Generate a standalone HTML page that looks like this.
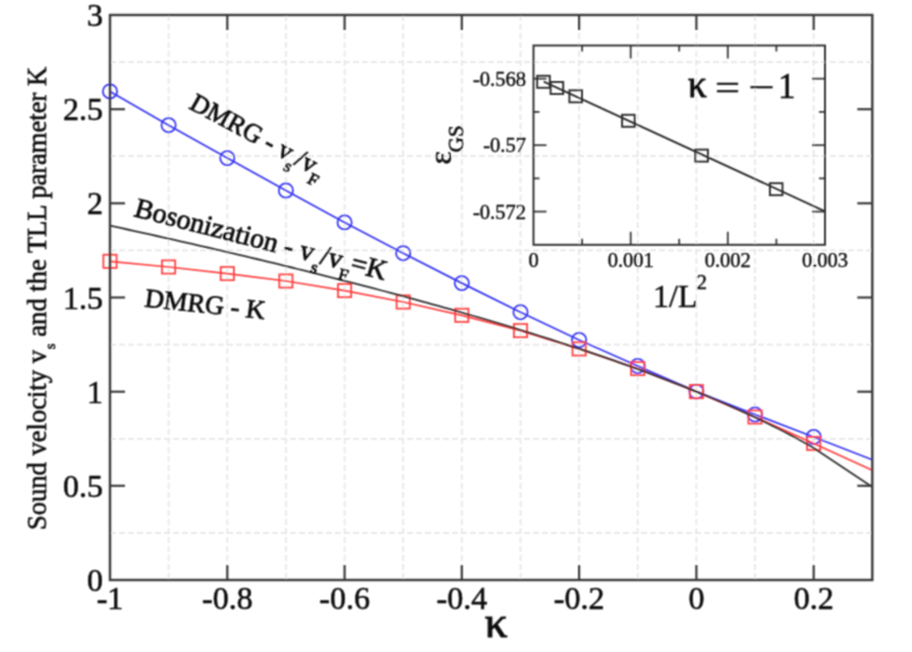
<!DOCTYPE html>
<html><head><meta charset="utf-8"><style>
html,body{margin:0;padding:0;background:#fff;width:912px;height:652px;overflow:hidden}
svg{display:block}
#w{width:912px;height:652px}
text{font-family:"Liberation Serif",serif}
</style></head><body><div id="w"><svg width="912" height="652" viewBox="0 0 912 652"><defs><filter id="b" x="-5%" y="-5%" width="110%" height="110%"><feConvolveMatrix order="3" kernelMatrix="1 2 1 2 4 2 1 2 1" divisor="16" edgeMode="none" preserveAlpha="false"/></filter></defs><rect width="912" height="652" fill="#fff"/><g filter="url(#b)"><g stroke="#e6e6e6" stroke-width="1.7" stroke-dasharray="6,3"><line x1="168.6" y1="15.0" x2="168.6" y2="580.0"/><line x1="227.3" y1="15.0" x2="227.3" y2="580.0"/><line x1="285.9" y1="15.0" x2="285.9" y2="580.0"/><line x1="344.6" y1="15.0" x2="344.6" y2="580.0"/><line x1="403.2" y1="15.0" x2="403.2" y2="580.0"/><line x1="461.8" y1="15.0" x2="461.8" y2="580.0"/><line x1="520.5" y1="15.0" x2="520.5" y2="580.0"/><line x1="579.1" y1="15.0" x2="579.1" y2="580.0"/><line x1="637.7" y1="15.0" x2="637.7" y2="580.0"/><line x1="696.4" y1="15.0" x2="696.4" y2="580.0"/><line x1="755.0" y1="15.0" x2="755.0" y2="580.0"/><line x1="813.7" y1="15.0" x2="813.7" y2="580.0"/><line x1="110.0" y1="532.9" x2="872.3" y2="532.9"/><line x1="110.0" y1="438.8" x2="872.3" y2="438.8"/><line x1="110.0" y1="344.6" x2="872.3" y2="344.6"/><line x1="110.0" y1="250.4" x2="872.3" y2="250.4"/><line x1="110.0" y1="156.2" x2="872.3" y2="156.2"/><line x1="110.0" y1="62.1" x2="872.3" y2="62.1"/></g><polyline fill="none" stroke="#3636f2" stroke-width="1.75" points="110.0,91.4 168.6,125.2 227.3,158.1 285.9,190.5 344.6,222.4 403.2,253.2 461.8,283.1 520.5,312.2 579.1,340.0 637.7,366.0 696.4,391.6 755.0,414.5 813.7,437.0 872.3,459.7"/><g fill="none" stroke="#3636f2" stroke-width="1.75"><circle cx="110.0" cy="91.4" r="7.1"/><circle cx="168.6" cy="125.2" r="7.1"/><circle cx="227.3" cy="158.1" r="7.1"/><circle cx="285.9" cy="190.5" r="7.1"/><circle cx="344.6" cy="222.4" r="7.1"/><circle cx="403.2" cy="253.2" r="7.1"/><circle cx="461.8" cy="283.1" r="7.1"/><circle cx="520.5" cy="312.2" r="7.1"/><circle cx="579.1" cy="340.0" r="7.1"/><circle cx="637.7" cy="366.0" r="7.1"/><circle cx="696.4" cy="391.6" r="7.1"/><circle cx="755.0" cy="414.5" r="7.1"/><circle cx="813.7" cy="437.0" r="7.1"/></g><polyline fill="none" stroke="#ff3c3c" stroke-width="1.75" points="110.0,261.3 168.6,267.0 227.3,273.6 285.9,281.0 344.6,290.6 403.2,302.0 461.8,315.3 520.5,330.6 579.1,348.9 637.7,368.6 696.4,391.6 755.0,417.0 813.7,443.5 872.3,470.3"/><g fill="none" stroke="#ff3c3c" stroke-width="1.75"><rect x="103.4" y="254.7" width="13.2" height="13.2"/><rect x="162.0" y="260.4" width="13.2" height="13.2"/><rect x="220.7" y="267.0" width="13.2" height="13.2"/><rect x="279.3" y="274.4" width="13.2" height="13.2"/><rect x="338.0" y="284.0" width="13.2" height="13.2"/><rect x="396.6" y="295.4" width="13.2" height="13.2"/><rect x="455.2" y="308.7" width="13.2" height="13.2"/><rect x="513.9" y="324.0" width="13.2" height="13.2"/><rect x="572.5" y="342.3" width="13.2" height="13.2"/><rect x="631.1" y="362.0" width="13.2" height="13.2"/><rect x="689.8" y="385.0" width="13.2" height="13.2"/><rect x="748.4" y="410.4" width="13.2" height="13.2"/><rect x="807.1" y="436.9" width="13.2" height="13.2"/></g><polyline fill="none" stroke="#2e2e2e" stroke-width="1.8" points="110.0,225.7 115.9,226.9 121.7,228.2 127.6,229.5 133.5,230.8 139.3,232.1 145.2,233.4 151.0,234.7 156.9,236.0 162.8,237.3 168.6,238.6 174.5,239.9 180.4,241.3 186.2,242.6 192.1,243.9 198.0,245.3 203.8,246.6 209.7,248.0 215.5,249.3 221.4,250.7 227.3,252.1 233.1,253.4 239.0,254.8 244.9,256.2 250.7,257.6 256.6,259.0 262.5,260.4 268.3,261.8 274.2,263.2 280.1,264.7 285.9,266.1 291.8,267.5 297.6,269.0 303.5,270.4 309.4,271.9 315.2,273.4 321.1,274.8 327.0,276.3 332.8,277.8 338.7,279.3 344.6,280.8 350.4,282.3 356.3,283.8 362.1,285.3 368.0,286.9 373.9,288.4 379.7,290.0 385.6,291.5 391.5,293.1 397.3,294.7 403.2,296.2 409.1,297.8 414.9,299.4 420.8,301.1 426.6,302.7 432.5,304.3 438.4,305.9 444.2,307.6 450.1,309.2 456.0,310.9 461.8,312.6 467.7,314.3 473.6,316.0 479.4,317.7 485.3,319.4 491.1,321.2 497.0,322.9 502.9,324.7 508.7,326.4 514.6,328.2 520.5,330.0 526.3,331.8 532.2,333.6 538.1,335.5 543.9,337.3 549.8,339.2 555.7,341.1 561.5,343.0 567.4,344.9 573.2,346.8 579.1,348.7 585.0,350.7 590.8,352.7 596.7,354.6 602.6,356.7 608.4,358.7 614.3,360.7 620.2,362.8 626.0,364.9 631.9,367.0 637.7,369.1 643.6,371.2 649.5,373.4 655.3,375.6 661.2,377.8 667.1,380.1 672.9,382.3 678.8,384.6 684.7,386.9 690.5,389.3 696.4,391.7 702.2,394.1 708.1,396.5 714.0,399.0 719.8,401.5 725.7,404.0 731.6,406.6 737.4,409.2 743.3,411.9 749.2,414.6 755.0,417.3 760.9,420.1 766.8,423.0 772.6,425.9 778.5,428.8 784.3,431.8 790.2,434.9 796.1,438.0 801.9,441.2 807.8,444.5 813.7,447.9 872.3,487.0"/><g stroke="#3a3a3a" stroke-width="2.2"><line x1="227.3" y1="580.0" x2="227.3" y2="565.0"/><line x1="227.3" y1="15.0" x2="227.3" y2="30.0"/><line x1="344.6" y1="580.0" x2="344.6" y2="565.0"/><line x1="344.6" y1="15.0" x2="344.6" y2="30.0"/><line x1="461.8" y1="580.0" x2="461.8" y2="565.0"/><line x1="461.8" y1="15.0" x2="461.8" y2="30.0"/><line x1="579.1" y1="580.0" x2="579.1" y2="565.0"/><line x1="579.1" y1="15.0" x2="579.1" y2="30.0"/><line x1="696.4" y1="580.0" x2="696.4" y2="565.0"/><line x1="696.4" y1="15.0" x2="696.4" y2="30.0"/><line x1="813.7" y1="580.0" x2="813.7" y2="565.0"/><line x1="813.7" y1="15.0" x2="813.7" y2="30.0"/><line x1="110.0" y1="485.8" x2="125.0" y2="485.8"/><line x1="872.3" y1="485.8" x2="857.3" y2="485.8"/><line x1="110.0" y1="391.7" x2="125.0" y2="391.7"/><line x1="872.3" y1="391.7" x2="857.3" y2="391.7"/><line x1="110.0" y1="297.5" x2="125.0" y2="297.5"/><line x1="872.3" y1="297.5" x2="857.3" y2="297.5"/><line x1="110.0" y1="203.3" x2="125.0" y2="203.3"/><line x1="872.3" y1="203.3" x2="857.3" y2="203.3"/><line x1="110.0" y1="109.2" x2="125.0" y2="109.2"/><line x1="872.3" y1="109.2" x2="857.3" y2="109.2"/></g><rect x="110.0" y="15.0" width="762.3" height="565.0" fill="none" stroke="#3a3a3a" stroke-width="2.4"/><g font-family="Liberation Serif" font-size="32" fill="#111" stroke="#111" stroke-width="0.6"><text x="103" y="26.0" text-anchor="end">3</text><text x="103" y="120.2" text-anchor="end">2.5</text><text x="103" y="214.3" text-anchor="end">2</text><text x="103" y="308.5" text-anchor="end">1.5</text><text x="103" y="402.7" text-anchor="end">1</text><text x="103" y="496.8" text-anchor="end">0.5</text><text x="103" y="591.0" text-anchor="end">0</text><text x="110.0" y="608.5" text-anchor="middle">-1</text><text x="227.3" y="608.5" text-anchor="middle">-0.8</text><text x="344.6" y="608.5" text-anchor="middle">-0.6</text><text x="461.8" y="608.5" text-anchor="middle">-0.4</text><text x="579.1" y="608.5" text-anchor="middle">-0.2</text><text x="696.4" y="608.5" text-anchor="middle">0</text><text x="813.7" y="608.5" text-anchor="middle">0.2</text></g><text x="496" y="637" font-family="Liberation Serif" font-size="45" fill="#111" stroke="#111" stroke-width="1.1" text-anchor="middle">κ</text><text transform="translate(46,530) rotate(-90) scale(0.966,1)" font-family="Liberation Serif" font-size="27.5" fill="#111" stroke="#111" stroke-width="0.6">Sound velocity v<tspan font-size="15.5" dy="9" dx="1">s</tspan><tspan dy="-9"> and the TLL parameter K</tspan></text><text transform="translate(188,108) rotate(28) skewX(-1.5)" font-family="Liberation Serif" fill="#111" stroke="#111" stroke-width="0.8" font-size="26">DMRG - v<tspan font-size="17" dy="10">s</tspan><tspan dy="-10">/v</tspan><tspan font-size="17" dy="10">F</tspan></text><text transform="translate(133,216) rotate(14.3) skewX(-1.5)" font-family="Liberation Serif" fill="#111" stroke="#111" stroke-width="0.8" font-size="27.9">Bosonization - v<tspan font-size="17" dy="10.5" dx="1">s</tspan><tspan dy="-10.5">/v</tspan><tspan font-size="17" dy="10.5">F</tspan><tspan dy="-10.5">=K</tspan></text><text transform="translate(144,306.5) rotate(6) skewX(-1.5)" font-family="Liberation Serif" fill="#111" stroke="#111" stroke-width="0.8" font-size="26.5">DMRG - K</text><g stroke="#3a3a3a" stroke-width="1.8"><line x1="630.7" y1="244.8" x2="630.7" y2="231.8"/><line x1="630.7" y1="45.5" x2="630.7" y2="58.5"/><line x1="727.8" y1="244.8" x2="727.8" y2="231.8"/><line x1="727.8" y1="45.5" x2="727.8" y2="58.5"/><line x1="582.1" y1="244.8" x2="582.1" y2="238.8"/><line x1="582.1" y1="45.5" x2="582.1" y2="51.5"/><line x1="679.2" y1="244.8" x2="679.2" y2="238.8"/><line x1="679.2" y1="45.5" x2="679.2" y2="51.5"/><line x1="776.4" y1="244.8" x2="776.4" y2="238.8"/><line x1="776.4" y1="45.5" x2="776.4" y2="51.5"/><line x1="533.5" y1="78.7" x2="546.5" y2="78.7"/><line x1="825.0" y1="78.7" x2="812.0" y2="78.7"/><line x1="533.5" y1="145.2" x2="546.5" y2="145.2"/><line x1="825.0" y1="145.2" x2="812.0" y2="145.2"/><line x1="533.5" y1="211.6" x2="546.5" y2="211.6"/><line x1="825.0" y1="211.6" x2="812.0" y2="211.6"/><line x1="533.5" y1="111.9" x2="539.5" y2="111.9"/><line x1="825.0" y1="111.9" x2="819.0" y2="111.9"/><line x1="533.5" y1="178.4" x2="539.5" y2="178.4"/><line x1="825.0" y1="178.4" x2="819.0" y2="178.4"/></g><rect x="533.5" y="45.5" width="291.5" height="199.3" fill="none" stroke="#2a2a2a" stroke-width="1.9"/><line x1="543.7" y1="81.6" x2="825.0" y2="211.3" stroke="#2a2a2a" stroke-width="1.9"/><g fill="none" stroke="#2a2a2a" stroke-width="1.9"><rect x="537.2" y="75.8" width="12.6" height="12.0"/><rect x="550.6" y="82.0" width="12.6" height="12.0"/><rect x="569.4" y="90.3" width="12.6" height="12.0"/><rect x="622.1" y="114.8" width="12.6" height="12.0"/><rect x="695.3" y="149.6" width="12.6" height="12.0"/><rect x="769.9" y="183.2" width="12.6" height="12.0"/></g><g font-family="Liberation Serif" font-size="20.5" fill="#111" stroke="#111" stroke-width="0.45"><text x="526" y="85.7" text-anchor="end">-0.568</text><text x="526" y="152.2" text-anchor="end">-0.57</text><text x="526" y="218.6" text-anchor="end">-0.572</text><text x="533.5" y="266.5" text-anchor="middle">0</text><text x="630.7" y="266.5" text-anchor="middle">0.001</text><text x="727.8" y="266.5" text-anchor="middle">0.002</text><text x="825.0" y="266.5" text-anchor="middle">0.003</text></g><text x="653" y="306.5" font-family="Liberation Serif" font-size="32" fill="#111" stroke="#111" stroke-width="0.5">1/L<tspan font-size="21" dy="-18" dx="-1">2</tspan></text><text transform="translate(450.5,164.5) rotate(-90)" font-family="Liberation Serif" font-size="31.5" fill="#111" stroke="#111" stroke-width="0.6">ε<tspan font-size="21" dy="12.5" dx="-1">GS</tspan></text><g font-family="Liberation Serif" fill="#111" stroke="#111" stroke-width="0.5"><text x="688" y="97" font-size="37" stroke-width="1.0">κ</text><text x="715" y="100" font-size="35" textLength="25" lengthAdjust="spacingAndGlyphs">=</text><text x="748.5" y="98.5" font-size="35" textLength="26" lengthAdjust="spacingAndGlyphs">−</text><text x="778" y="97.5" font-size="35">1</text></g></g></svg></div></body></html>
